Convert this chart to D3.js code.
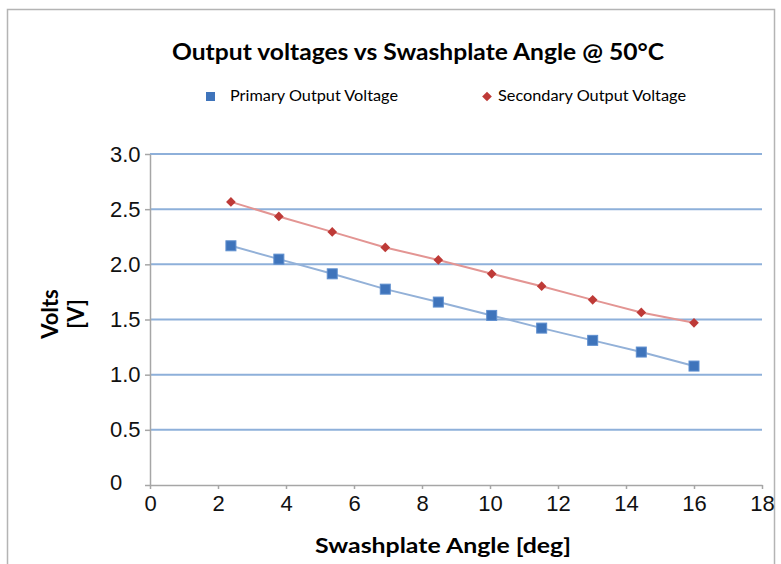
<!DOCTYPE html>
<html>
<head>
<meta charset="utf-8">
<script src="https://cdn.jsdelivr.net/npm/d3@7"></script>
<style>
  body { margin: 0; background: #fff; }
  svg { display: block; font-family: Lato, "Open Sans", sans-serif; }
  .tick text { fill: #111; }
</style>
</head>
<body>
<svg></svg>
<script>
const angles = [2.38, 3.79, 5.36, 6.92, 8.48, 10.05, 11.52, 13.02, 14.45, 16.0]
const primary = [2.168, 2.047, 1.914, 1.775, 1.658, 1.537, 1.422, 1.311, 1.205, 1.078]
const secondary = [2.566, 2.434, 2.294, 2.153, 2.04, 1.914, 1.802, 1.678, 1.564, 1.47]
const xTicks = [0, 2, 4, 6, 8, 10, 12, 14, 16, 18]
const yTicks = [0, 0.5, 1.0, 1.5, 2.0, 2.5, 3.0]
const seriesNames = ["Primary Output Voltage", "Secondary Output Voltage"]

const svg = d3.select("svg")
    .attr("width", 781)
    .attr("height", 564)

// outer frame
svg.append("rect")
    .attr("x", 7.5).attr("y", 9.5)
    .attr("width", 767).attr("height", 570)
    .attr("fill", "none")
    .attr("stroke", "#b4b4b4")
    .attr("stroke-width", 1.5)

const xScale = d3.scaleLinear()
    .domain([0, 18])
    .range([150, 762])

const yScale = d3.scaleLinear()
    .domain([0, 3])
    .range([485, 154])

// gridlines
svg.append("g")
    .selectAll("line")
    .data(yTicks.filter(d => d > 0))
    .enter()
    .append("line")
    .attr("x1", xScale(0))
    .attr("x2", xScale(18))
    .attr("y1", d => yScale(d))
    .attr("y2", d => yScale(d))
    .attr("stroke", "#8eb0da")
    .attr("stroke-width", 2)

const xAxis = svg.append("g")
    .attr("transform", `translate(0,${yScale(0)})`)
    .call(d3.axisBottom(xScale).tickValues(xTicks).tickSize(4).tickSizeOuter(0))
xAxis.select(".domain").attr("stroke", "#a6a6a6").attr("stroke-width", 1.5)
xAxis.selectAll(".tick line").attr("stroke", "#a6a6a6").attr("stroke-width", 1.5)
xAxis.selectAll(".tick text")
    .attr("font-size", 22)
    .attr("y", 8)
    .attr("dy", "0.8em")

const yAxis = svg.append("g")
    .attr("transform", `translate(${xScale(0)},0)`)
    .call(d3.axisLeft(yScale).tickValues(yTicks).tickSize(5).tickSizeOuter(0)
        .tickFormat(d => d === 0 ? "0" : d3.format(".1f")(d)))
yAxis.select(".domain").attr("stroke", "#a6a6a6").attr("stroke-width", 1.5)
yAxis.selectAll(".tick line").attr("stroke", "#a6a6a6").attr("stroke-width", 1.5)
yAxis.selectAll(".tick text")
    .attr("font-size", 22)
    .attr("text-anchor", "start")
    .attr("x", -40)
    .attr("dy", d => d === 0 ? "0.22em" : "0.32em")

const primaryData = angles.map((a, i) => ({ x: a, y: primary[i] }))
const secondaryData = angles.map((a, i) => ({ x: a, y: secondary[i] }))

const line = d3.line()
    .x(d => xScale(d.x))
    .y(d => yScale(d.y))

svg.append("path")
    .datum(primaryData)
    .attr("d", line)
    .attr("fill", "none")
    .attr("stroke", "#93b1d8")
    .attr("stroke-width", 2)

svg.append("path")
    .datum(secondaryData)
    .attr("d", line)
    .attr("fill", "none")
    .attr("stroke", "#e39593")
    .attr("stroke-width", 2)

svg.append("g")
    .selectAll("rect")
    .data(primaryData)
    .enter()
    .append("rect")
    .attr("x", d => xScale(d.x) - 5)
    .attr("y", d => yScale(d.y) - 5)
    .attr("width", 10)
    .attr("height", 10)
    .attr("fill", "#3f74bb")
    .attr("stroke", "#5f8fcf")
    .attr("stroke-width", 1)

const diamond = d3.symbol().type(d3.symbolDiamond2).size(60)

svg.append("g")
    .selectAll("path")
    .data(secondaryData)
    .enter()
    .append("path")
    .attr("transform", d => `translate(${xScale(d.x)},${yScale(d.y)})`)
    .attr("d", diamond)
    .attr("fill", "#be3a37")

// title
svg.append("text")
    .attr("x", 418)
    .attr("y", 60)
    .attr("text-anchor", "middle")
    .attr("font-size", 23)
    .attr("font-weight", "bold")
    .attr("textLength", 492)
    .attr("lengthAdjust", "spacingAndGlyphs")
    .text("Output voltages vs Swashplate Angle @ 50°C")

// legend
svg.append("rect")
    .attr("x", 206).attr("y", 92)
    .attr("width", 9).attr("height", 9)
    .attr("fill", "#3f74bb")

svg.append("text")
    .attr("x", 230)
    .attr("y", 101)
    .attr("font-size", 15)
    .attr("textLength", 168)
    .attr("lengthAdjust", "spacingAndGlyphs")
    .text(seriesNames[0])

svg.append("path")
    .attr("transform", "translate(487,96.5)")
    .attr("d", diamond)
    .attr("fill", "#be3a37")

svg.append("text")
    .attr("x", 498)
    .attr("y", 101)
    .attr("font-size", 15)
    .attr("textLength", 188)
    .attr("lengthAdjust", "spacingAndGlyphs")
    .text(seriesNames[1])

// axis titles
svg.append("text")
    .attr("x", 443)
    .attr("y", 553)
    .attr("text-anchor", "middle")
    .attr("font-size", 21)
    .attr("font-weight", "bold")
    .attr("textLength", 256)
    .attr("lengthAdjust", "spacingAndGlyphs")
    .text("Swashplate Angle [deg]")

const yTitle = svg.append("text")
    .attr("transform", "translate(58,314) rotate(-90)")
    .attr("text-anchor", "middle")
    .attr("font-size", 22)
    .attr("font-weight", "bold")

yTitle.append("tspan")
    .attr("x", 0).attr("dy", 0)
    .text("Volts")

yTitle.append("tspan")
    .attr("x", 0).attr("dy", 26)
    .text("[V]")
</script>
</body>
</html>
